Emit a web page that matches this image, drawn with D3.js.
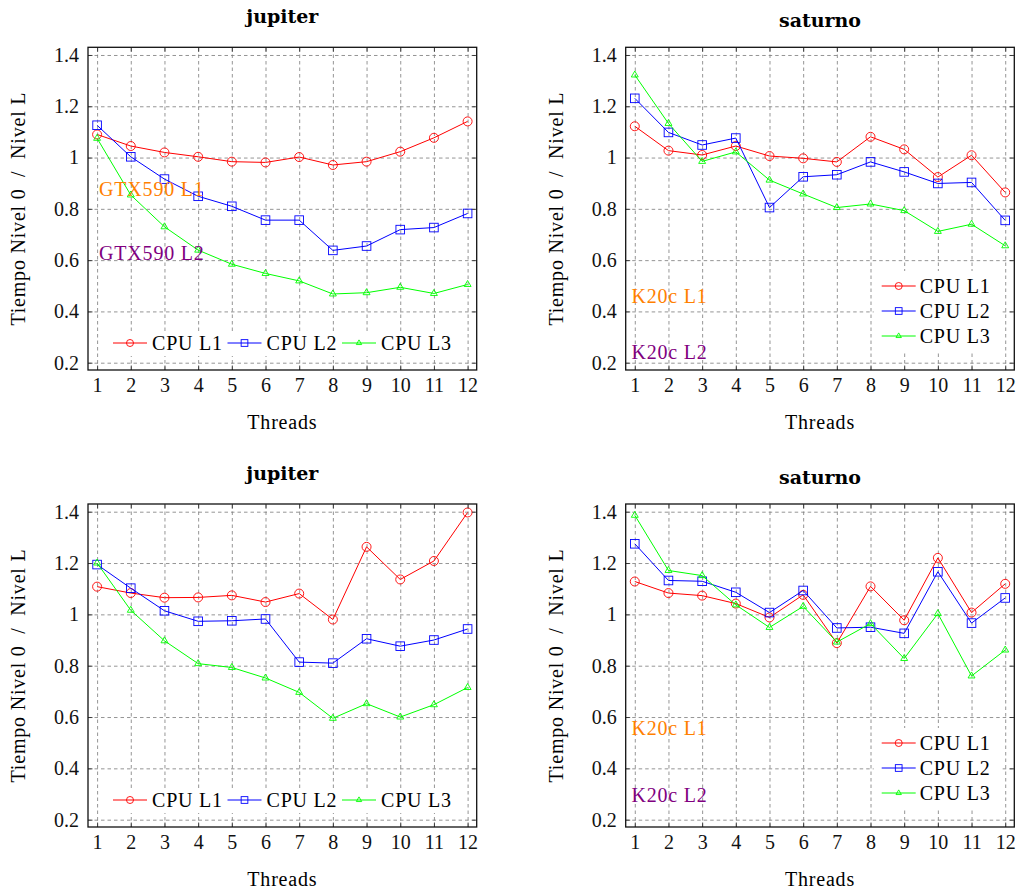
<!DOCTYPE html>
<html>
<head>
<meta charset="utf-8">
<script src="https://cdn.jsdelivr.net/npm/d3@7"></script>
<style>
  body { margin: 0; background: #fff; }
</style>
</head>
<body>
<div id="chart"></div>
<script>
const threads = [1, 2, 3, 4, 5, 6, 7, 8, 9, 10, 11, 12]
const yTicks = [0.2, 0.4, 0.6, 0.8, 1, 1.2, 1.4]
const yTickLabels = ['0.2', '0.4', '0.6', '0.8', '1', '1.2', '1.4']
const seriesNames = ['CPU L1', 'CPU L2', 'CPU L3']

// jupiter, first row
const jupiterTopL1 = [1.09, 1.045, 1.02, 1.003, 0.984, 0.981, 1.002, 0.971, 0.984, 1.023, 1.077, 1.141]
const jupiterTopL2 = [1.126, 1.003, 0.916, 0.849, 0.81, 0.756, 0.756, 0.638, 0.655, 0.719, 0.727, 0.782]
const jupiterTopL3 = [1.075, 0.854, 0.73, 0.639, 0.584, 0.548, 0.519, 0.468, 0.473, 0.494, 0.47, 0.505]

// saturno, first row
const saturnoTopL1 = [1.122, 1.027, 1.01, 1.045, 1.006, 0.997, 0.983, 1.081, 1.032, 0.924, 1.009, 0.864]
const saturnoTopL2 = [1.231, 1.098, 1.049, 1.076, 0.805, 0.925, 0.933, 0.983, 0.944, 0.899, 0.903, 0.755]
const saturnoTopL3 = [1.322, 1.133, 0.985, 1.022, 0.912, 0.858, 0.805, 0.819, 0.793, 0.712, 0.74, 0.656]

// jupiter, second row
const jupiterBotL1 = [1.108, 1.083, 1.065, 1.066, 1.074, 1.048, 1.081, 0.98, 1.263, 1.136, 1.208, 1.397]
const jupiterBotL2 = [1.194, 1.102, 1.014, 0.973, 0.975, 0.982, 0.814, 0.81, 0.905, 0.876, 0.9, 0.943]
const jupiterBotL3 = [1.2, 1.016, 0.897, 0.808, 0.793, 0.752, 0.696, 0.595, 0.652, 0.6, 0.648, 0.715]

// saturno, second row
const saturnoBotL1 = [1.128, 1.083, 1.073, 1.042, 0.988, 1.076, 0.888, 1.109, 0.977, 1.22, 1.007, 1.119]
const saturnoBotL2 = [1.275, 1.132, 1.129, 1.086, 1.007, 1.093, 0.947, 0.95, 0.926, 1.166, 0.966, 1.064]
const saturnoBotL3 = [1.386, 1.171, 1.151, 1.037, 0.949, 1.031, 0.892, 0.964, 0.828, 1.003, 0.76, 0.861]

// GPU labels (text, x and y in axis units)
const gtx590Notes = [{ text: 'GTX590 L1', x: 1.06, y: 0.85 }, { text: 'GTX590 L2', x: 1.06, y: 0.6 }]
const k20cTopNotes = [{ text: 'K20c L1', x: 0.9, y: 0.433 }, { text: 'K20c L2', x: 0.9, y: 0.214 }]
const k20cBotNotes = [{ text: 'K20c L1', x: 0.9, y: 0.53 }, { text: 'K20c L2', x: 0.9, y: 0.268 }]

const colors = ['#ff0000', '#0000ff', '#00ff00']
const marks = ['circle', 'square', 'triangle']
const noteColors = ['#ff8000', '#800080']
const serif = "'Liberation Serif', serif"

const cols = [{ x0: 88, x1: 476.7 }, { x0: 625.7, x1: 1014.3 }]
const rows = [{ y0: 47.3, y1: 370 }, { y0: 504, y1: 827 }]

const panels = [
  { title: 'jupiter', col: 0, row: 0, series: [jupiterTopL1, jupiterTopL2, jupiterTopL3], legend: 'row', notes: gtx590Notes },
  { title: 'saturno', col: 1, row: 0, series: [saturnoTopL1, saturnoTopL2, saturnoTopL3], legend: 'column', notes: k20cTopNotes },
  { title: 'jupiter', col: 0, row: 1, series: [jupiterBotL1, jupiterBotL2, jupiterBotL3], legend: 'row', notes: [] },
  { title: 'saturno', col: 1, row: 1, series: [saturnoBotL1, saturnoBotL2, saturnoBotL3], legend: 'column', notes: k20cBotNotes }
]

let svg = d3
  .select('#chart')
  .append('svg')
  .attr('width', 1018)
  .attr('height', 893)

function drawMark(g, type, cx, cy, color, s) {
  if (type === 'circle') {
    g.append('circle')
      .attr('cx', cx).attr('cy', cy).attr('r', 4.5 * s)
      .attr('fill', 'none').attr('stroke', color).attr('stroke-width', 0.9)
  } else if (type === 'square') {
    let a = 4.3 * s
    g.append('rect')
      .attr('x', cx - a).attr('y', cy - a).attr('width', 2 * a).attr('height', 2 * a)
      .attr('fill', 'none').attr('stroke', color).attr('stroke-width', 0.9)
  } else {
    let r = 4 * s
    let pts = [[cx, cy - r], [cx - r * 0.866, cy + r * 0.5], [cx + r * 0.866, cy + r * 0.5]]
    g.append('path')
      .attr('d', 'M' + pts.join('L') + 'Z')
      .attr('fill', 'none').attr('stroke', color).attr('stroke-width', 0.9)
  }
}

function label(g, txt, size) {
  return g.append('text')
    .style('font-family', serif)
    .style('font-size', size + 'px')
    .text(txt)
}

function drawPanel(p) {
  let { x0, x1 } = cols[p.col]
  let { y0, y1 } = rows[p.row]
  let g = svg.append('g')

  let x = d3.scaleLinear().domain([0.73, 12.27]).range([x0, x1])
  let y = d3.scaleLinear().domain([0.1715, 1.43]).range([y1, y0])

  // grid
  g.append('g')
    .attr('transform', `translate(0,${y1})`)
    .call(d3.axisBottom(x).tickValues(threads).tickSize(-(y1 - y0)).tickFormat(''))
    .call(a => a.select('.domain').remove())
    .selectAll('line')
    .attr('stroke', '#7a7a7a').attr('stroke-width', 0.8).attr('stroke-dasharray', '3.5,3')
  g.append('g')
    .attr('transform', `translate(${x0},0)`)
    .call(d3.axisLeft(y).tickValues(yTicks).tickSize(-(x1 - x0)).tickFormat(''))
    .call(a => a.select('.domain').remove())
    .selectAll('line')
    .attr('stroke', '#7a7a7a').attr('stroke-width', 0.8).attr('stroke-dasharray', '3.5,3')

  // series
  let line = d3.line().x((d, i) => x(threads[i])).y(d => y(d))
  p.series.forEach((values, k) => {
    g.append('path')
      .datum(values)
      .attr('d', line)
      .attr('fill', 'none')
      .attr('stroke', colors[k])
      .attr('stroke-width', 1)
    values.forEach((v, i) => drawMark(g, marks[k], x(threads[i]), y(v), colors[k], 1))
  })

  // GPU labels
  p.notes.forEach((n, i) => {
    label(g, n.text, 20)
      .attr('x', x(n.x))
      .attr('y', y(n.y))
      .attr('letter-spacing', 0.8)
      .attr('fill', noteColors[i])
  })

  // legend
  let lg = g.append('g')
  if (p.legend === 'row') {
    lg.append('rect')
      .attr('x', x0 + 20).attr('y', y1 - 39).attr('width', 350).attr('height', 25)
      .attr('fill', '#fff')
    seriesNames.forEach((name, k) => {
      let lx = x0 + 25 + k * 114.5
      let ly = y1 - 27
      lg.append('line')
        .attr('x1', lx).attr('x2', lx + 34).attr('y1', ly).attr('y2', ly)
        .attr('stroke', colors[k]).attr('stroke-width', 1)
      drawMark(lg, marks[k], lx + 17, ly, colors[k], 0.78)
      label(lg, name, 20)
        .attr('x', lx + 39).attr('y', ly + 7)
        .attr('letter-spacing', 0.8)
    })
  } else {
    lg.append('rect')
      .attr('x', x0 + 248).attr('y', y1 - 99).attr('width', 128).attr('height', 81)
      .attr('fill', '#fff')
    seriesNames.forEach((name, k) => {
      let lx = x0 + 256
      let ly = y1 - 84 + k * 25
      lg.append('line')
        .attr('x1', lx).attr('x2', lx + 34).attr('y1', ly).attr('y2', ly)
        .attr('stroke', colors[k]).attr('stroke-width', 1)
      drawMark(lg, marks[k], lx + 17, ly, colors[k], 0.78)
      label(lg, name, 20)
        .attr('x', lx + 38).attr('y', ly + 7)
        .attr('letter-spacing', 0.8)
    })
  }

  // inner ticks on all four sides
  let tickStyle = sel => sel.selectAll('line').attr('stroke', '#222').attr('stroke-width', 0.8)
  g.append('g').attr('transform', `translate(0,${y1})`)
    .call(d3.axisTop(x).tickValues(threads).tickSize(4.5).tickFormat(''))
    .call(a => a.select('.domain').remove()).call(tickStyle)
  g.append('g').attr('transform', `translate(0,${y0})`)
    .call(d3.axisBottom(x).tickValues(threads).tickSize(4.5).tickFormat(''))
    .call(a => a.select('.domain').remove()).call(tickStyle)
  g.append('g').attr('transform', `translate(${x0},0)`)
    .call(d3.axisRight(y).tickValues(yTicks).tickSize(4.5).tickFormat(''))
    .call(a => a.select('.domain').remove()).call(tickStyle)
  g.append('g').attr('transform', `translate(${x1},0)`)
    .call(d3.axisLeft(y).tickValues(yTicks).tickSize(4.5).tickFormat(''))
    .call(a => a.select('.domain').remove()).call(tickStyle)

  // frame
  g.append('rect')
    .attr('x', x0).attr('y', y0).attr('width', x1 - x0).attr('height', y1 - y0)
    .attr('fill', 'none').attr('stroke', '#111').attr('stroke-width', 1.3)

  // tick labels
  g.append('g')
    .attr('transform', `translate(0,${y1})`)
    .call(d3.axisBottom(x).tickValues(threads).tickSize(0).tickPadding(8))
    .call(a => a.select('.domain').remove())
    .selectAll('text')
    .style('font-family', serif).style('font-size', '20px').attr('fill', '#111')
  g.append('g')
    .attr('transform', `translate(${x0},0)`)
    .call(d3.axisLeft(y).tickValues(yTicks).tickSize(0).tickPadding(9)
      .tickFormat(d => yTickLabels[yTicks.indexOf(d)]))
    .call(a => a.select('.domain').remove())
    .selectAll('text')
    .style('font-family', serif).style('font-size', '20px').attr('fill', '#111')

  // axis labels and title
  label(g, 'Threads', 20)
    .attr('x', (x0 + x1) / 2).attr('y', y1 + 59)
    .attr('text-anchor', 'middle')
    .attr('letter-spacing', 0.8)
  label(g, 'Tiempo Nivel 0  /  Nivel L', 20)
    .attr('transform', `translate(${x0 - 63},${(y0 + y1) / 2}) rotate(-90)`)
    .attr('text-anchor', 'middle')
    .attr('letter-spacing', 0.8)
    .style('white-space', 'pre')
  g.append('text')
    .attr('x', (x0 + x1) / 2)
    .attr('y', y0 - 20 - (/[gjpqy]/.test(p.title) ? 4 : 0))
    .attr('text-anchor', 'middle')
    .style('font-family', "'DejaVu Serif', serif")
    .style('font-weight', 'bold')
    .style('font-size', '19px')
    .text(p.title)
}

panels.forEach(drawPanel)
</script>
</body>
</html>
